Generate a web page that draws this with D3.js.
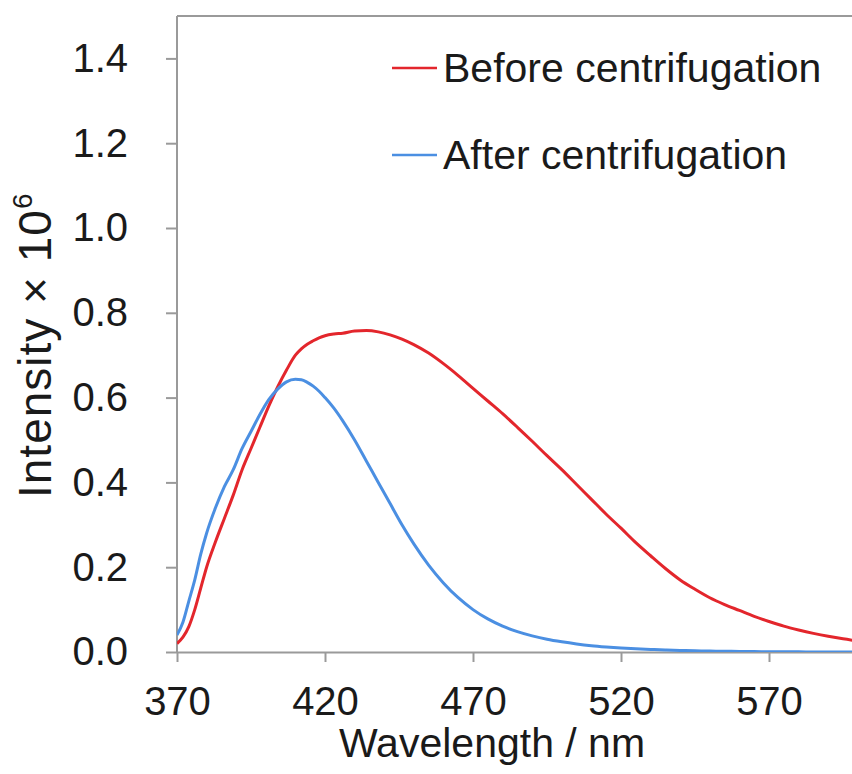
<!DOCTYPE html>
<html><head><meta charset="utf-8">
<script src="https://cdn.jsdelivr.net/npm/d3@7"></script>
<style>
html,body{margin:0;padding:0;background:#fff;}
svg{display:block;font-family:"Liberation Sans",Arial,sans-serif;}
</style></head>
<body>
<svg id="chart" width="852" height="774"></svg>
<script>
const wavelengths = [370,372,374,376,378,380,383,386,389,392,395,398,401,404,407,410,412,414,416,418,420,423,426,430,434,438,442,446,450,455,460,465,470,475,480,485,490,495,500,505,510,515,520,525,530,535,540,545,550,555,560,565,570,575,580,585,590,595,600];
const before = [0.02,0.035,0.06,0.10,0.15,0.20,0.26,0.315,0.37,0.43,0.48,0.53,0.58,0.625,0.665,0.70,0.715,0.726,0.734,0.741,0.746,0.75,0.752,0.757,0.758,0.755,0.748,0.738,0.725,0.705,0.68,0.652,0.622,0.592,0.562,0.53,0.497,0.463,0.43,0.395,0.36,0.325,0.292,0.258,0.227,0.197,0.17,0.148,0.128,0.112,0.098,0.084,0.072,0.061,0.052,0.044,0.037,0.031,0.026];
const after = [0.04,0.07,0.12,0.17,0.23,0.28,0.34,0.39,0.43,0.48,0.52,0.56,0.595,0.62,0.637,0.643,0.642,0.636,0.627,0.615,0.60,0.575,0.545,0.50,0.45,0.40,0.35,0.30,0.255,0.205,0.163,0.128,0.10,0.078,0.061,0.048,0.038,0.030,0.024,0.019,0.015,0.012,0.0095,0.0075,0.006,0.0047,0.0037,0.0029,0.0022,0.0017,0.0013,0.001,0.0007,0.0005,0.0003,0.0002,0.0001,0.0001,0];
const seriesNames = ["Before centrifugation","After centrifugation"];
const seriesColors = ["#e3262c","#4b8fe2"];
const xTicks = [370,420,470,520,570];
const yTicks = [0,0.2,0.4,0.6,0.8,1.0,1.2,1.4];

const svg = d3.select("#chart");
const mLeft = 177, mTop = 16, mBottom = 652;
const x = d3.scaleLinear().domain([370,600]).range([mLeft, mLeft + 230*2.96]);
const y = d3.scaleLinear().domain([0,1.5]).range([mBottom, mTop]);
const axisColor = "#9a9a9a";
const textColor = "#1a1a1a";

// top border
svg.append("line").attr("x1", mLeft).attr("x2", 852).attr("y1", mTop).attr("y2", mTop)
  .attr("stroke", axisColor).attr("stroke-width", 2);

const gx = svg.append("g").attr("transform", `translate(0,${mBottom})`)
  .call(d3.axisBottom(x).tickValues(xTicks).tickSize(10).tickSizeOuter(0).tickPadding(25));
const gy = svg.append("g").attr("transform", `translate(${mLeft},0)`)
  .call(d3.axisLeft(y).tickValues(yTicks).tickSize(11).tickSizeOuter(0).tickPadding(38).tickFormat(d3.format(".1f")));
[gx, gy].forEach(g => {
  g.select(".domain").attr("stroke", axisColor).attr("stroke-width", 2);
  g.selectAll(".tick line").attr("stroke", axisColor).attr("stroke-width", 2);
  g.selectAll(".tick text").attr("fill", textColor).style("font-size", "40px")
   .style("font-family", '"Liberation Sans",Arial,sans-serif');
});
gy.select(".domain").attr("d", `M0,${y(1.5)}V${mBottom}`);

const line = d3.line().x((d,i) => x(wavelengths[i])).y(d => y(d)).curve(d3.curveMonotoneX);
svg.append("clipPath").attr("id","clip").append("rect")
  .attr("x", mLeft).attr("y", mTop).attr("width", 852-mLeft).attr("height", mBottom-mTop);
[before, after].forEach((s, k) => {
  svg.append("path").datum(s).attr("d", line).attr("fill","none")
    .attr("stroke", seriesColors[k]).attr("stroke-width", 3).attr("clip-path","url(#clip)");
});

// legend
const legY = [68, 155];
seriesNames.forEach((n, k) => {
  svg.append("line").attr("x1", 392).attr("x2", 437).attr("y1", legY[k]).attr("y2", legY[k])
    .attr("stroke", seriesColors[k]).attr("stroke-width", 2.6);
  svg.append("text").attr("x", 443).attr("y", legY[k] + 14).attr("fill", textColor)
    .style("font-size","41px").text(n);
});

// axis titles
svg.append("text").attr("x", 492).attr("y", 757).attr("text-anchor","middle")
  .attr("fill", textColor).style("font-size","41px").text("Wavelength / nm");
const yt = svg.append("text").attr("transform","translate(51,498) rotate(-90)")
  .attr("text-anchor","start").attr("fill", textColor).style("font-size","46px")
  .style("letter-spacing","1px");
yt.append("tspan").text("Intensity × 10");
yt.append("tspan").attr("dy", -19).style("font-size","28px").text("6");
</script>
</body></html>
